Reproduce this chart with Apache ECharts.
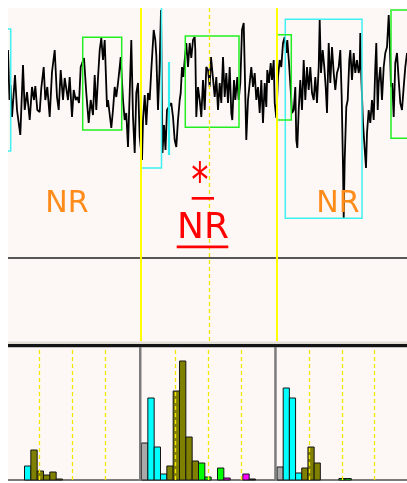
<!DOCTYPE html>
<html><head><meta charset="utf-8">
<script src="https://cdn.jsdelivr.net/npm/echarts@6/dist/echarts.min.js"></script>
<style>html,body{margin:0;padding:0;background:#fff}#c{width:407px;height:483px}</style>
</head><body><div id="c"></div><script>
// ---- EEG trace: [sample, amplitude µV] ----
const eegTrace = [
[0,40],[1.5,-10],[2.5,5],[4,-27],[7,15],[9,-20],[12.3,-45],[15,25],[16.7,-20],[19,-2],[21.7,-30],[24,3],[26,-10],[27.3,4],[29.3,-20],[31.7,-22],[33.3,2],[35.7,23],[37.3,-10],[39.3,3],[41.7,-27],[44,18],[46.7,40],[49,-7],[50.7,-20],[52.7,20],[55,-10],[56.7,12],[60,-10],[61.7,13],[64,-27],[65.7,0],[67.7,-10],[69.3,-7],[71,-13],[72.7,23],[76,32],[78.3,-3],[80.7,-33],[82.7,-10],[85,-25],[86.7,15],[88.3,-20],[90,12],[91.7,40],[93.3,52],[95,30],[96.7,50],[99,-17],
[100,-10],[103.3,-38],[105,-20],[106.7,3],[108.3,-7],[110,7],[111.7,23],[112.7,33],[115,-10],[116.7,-30],[118.3,-23],[120,-57],[121.7,-3],[123.3,50],[125,-27],[126.7,-63],[128.3,-3],[130,7],[131.7,-47],[134,-70],[135,-30],[136.7,-5],[138.3,-35],[140,-3],[141.7,-10],[143.3,20],[145.7,60],[147.3,50],[148.3,35],[150,-20],[151.5,20],[153,80],[154.5,-63],[156,-35],[157.5,-60],[159,-20],[163.3,-13],[165,-27],[166.7,-50],[168.3,-57],[170,-30],[171.7,-10],[172.7,-3],[174,23],[175.3,13],[176.7,30],[178.3,47],[180,23],[181.7,47],[183.3,32],[185,50],[186.7,53],[187.3,40],[188.3,-27],[190,3],[191.7,-10],[193.3,-27],[195,10],[196.7,-20],[198.3,23],
[200,20],[201.7,3],[203,33],[206.7,-7],[208.3,13],[210,-20],[211.7,7],[213.3,-13],[215,33],[216.7,-7],[218.3,17],[220,-13],[221.7,23],[223.3,-23],[224.3,-30],[226,10],[227.3,-10],[229.3,13],[230.7,-10],[232.3,7],[234,60],[235.7,67],[236.7,23],[238.3,-50],[240,-10],[241.7,7],[243.3,23],[245,3],[246.7,17],[248.3,-10],[250,3],[251.7,-23],[253.3,10],[255,-33],[256.7,7],[258.3,-17],[259.3,20],[261,7],[262.7,27],[264,10],[265.7,30],[266.7,-13],[268.3,-28],[270,13],[271.7,30],[273.3,23],[275,47],[276.7,53],[278.3,37],[279.3,50],[281,27],[282.7,0],[284,-23],[285.7,-20],[287.3,3],[288.3,-50],[289.3,-58],[290.7,-20],[292.3,10],[294,-20],[295.7,30],[297.3,-10],
[299,23],[300.7,0],[302.3,23],[304,-3],[305.7,-10],[307.3,13],[309,-13],[310.7,23],[311.7,70],[313,17],[314.7,40],[316.3,23],[317.7,3],[319,-23],[320.7,47],[322.3,7],[324,43],[325.7,17],[327.3,0],[329,17],[330.7,23],[332.3,40],[333.7,-7],[335,-77],[335.7,-128],[336.7,-70],[338.3,-17],[339.7,-10],[341.3,30],[342.3,40],[344,10],[345.7,37],[347.3,17],[349,30],[350.7,17],[351.7,23],[352.3,57],[353.3,13],[355,-33],[356.3,-53],[358,-78],[359,-43],[360.7,-20],[362.3,-33],[364,-10],[365.7,-30],[367.3,23],[368.3,47],[369.7,-20],[370.7,7],[372.3,23],[374,-10],[375.7,23],[377.3,37],[379,43],[380.7,75],[381.7,50],[383,3],[384.3,7],[385.7,-27],[387.3,27],[389,37],[390.7,10],[392.3,-13],[394,-20],[395.7,3],[397.3,23],[399,37]
];
// ---- second (flat) channel ----
const emgTrace = [
[0,-168],[20,-168],[21,-168.8],[22,-168],[60,-168],[61,-168.8],[62,-168],[130,-168],[131,-168.8],[132,-168],[175,-168],[176,-169],[177,-168],[240,-168],[241,-168.8],[242,-168],[300,-168],[301,-168.8],[302,-168],[340,-168],[341,-169],[342,-168],[399,-168]
];
const artifactMark = [[161,28],[161,-65]];
// annotation boxes: [t0, t1, aTop, aBottom]
const cyanBoxes = [[-18,2.7,61,-61],[133,153.5,100,-78],[277.3,354,70.7,-128.3]];
const greenBoxes = [[74.7,113.7,52.7,-40],[177.3,231,54,-37.3],[269,283.3,55.3,-30],[383,420,80,-48.3]];
const epochBounds = [133, 269];
const midMark = [201];
const stageLeft = 'NR', stageMid = 'NR', stageRight = 'NR';
// spectra histograms (21 bins each)
const hist1 = [0,0,0,14,30,9,5,8,1,0,0,0,0,0,0,0,0,0,0,0,0];
const hist2 = [37,82,33,6,14,89,119,43,19,17,3,0,12,2,0,0,6,1,0,0,0];
const hist3 = [13,92,82,7,12,33,17,0,0,0,1.5,1.5,0,0,0,0,0,0,0,0,0];
const bandLines = [1,2,3];

function binColor(i){
  if(i===0) return '#a9a9a9';
  if(i<=3) return '#00ffff';
  if(i<=8) return '#808000';
  if(i<=12) return '#00ff00';
  if(i<=16) return '#ff00ff';
  return '#202020';
}
const PINK = '#fdf8f6';
const chart = echarts.init(document.getElementById('c'));
const hists = [hist1, hist2, hist3];
const panelLefts = [5.5, 141.5, 277];
const grids = [{left:8, top:8, width:399, height:333}];
panelLefts.forEach(l => grids.push({left:l, top:347, width:133, height:133}));
const xAxes = [{type:'value', gridIndex:0, min:0, max:399, show:false}];
const yAxes = [{type:'value', gridIndex:0, min:-251, max:82, show:false}];
const cats = hist1.map((_, i) => String(i));
for (let p=0;p<3;p++){
  xAxes.push({type:'category', gridIndex:p+1, data:cats, boundaryGap:true,
    axisLine:{show:true, lineStyle:{color:'#505050', width:1.5}}, axisTick:{show:false}, axisLabel:{show:false}, splitLine:{show:false}});
  yAxes.push({type:'value', gridIndex:p+1, min:0, max:133, show:false});
}
for (let p=0;p<3;p++) xAxes.push({type:'value', gridIndex:p+1, min:0, max:4, show:false});

function boxSeries(data, color){
  return {type:'custom', xAxisIndex:0, yAxisIndex:0, clip:true, silent:true, z:4,
    data:data, encode:{x:[0,1], y:[2,3]},
    renderItem:(params, api)=>{
      const p0 = api.coord([api.value(0), api.value(2)]);
      const p1 = api.coord([api.value(1), api.value(3)]);
      return {type:'rect', shape:{x:p0[0], y:p0[1], width:p1[0]-p0[0], height:p1[1]-p0[1]},
        style:{fill:'none', stroke:color, lineWidth:1.5}};
    }};
}
const series = [
  {type:'line', xAxisIndex:0, yAxisIndex:0, data:eegTrace, symbol:'none', z:3,
    lineStyle:{color:'#000', width:1.8}, animation:false,
    markLine:{silent:true, symbol:'none', label:{show:false}, animation:false,
      data:[...epochBounds.map(v=>({xAxis:v, lineStyle:{color:'#ffff00', width:2, type:'solid'}})),
            ...midMark.map(v=>({xAxis:v, lineStyle:{color:'#f5e600', width:1.3, type:[4,3]}}))]}},
  {type:'line', xAxisIndex:0, yAxisIndex:0, data:emgTrace, symbol:'none', lineStyle:{color:'#222', width:1.4}, animation:false},
  {type:'line', xAxisIndex:0, yAxisIndex:0, data:artifactMark, symbol:'none', lineStyle:{color:'#33eeee', width:2.2}, animation:false, z:4},
  boxSeries(cyanBoxes, '#3ff0f0'),
  boxSeries(greenBoxes, '#22ee22')
];
for (let p=0;p<3;p++){
  series.push({type:'custom', xAxisIndex:p+1, yAxisIndex:p+1, animation:false, silent:true, z:3,
    data: hists[p].map((v,i)=>[i, v]),
    encode:{x:0, y:1},
    renderItem:(params, api)=>{
      const i = api.value(0), v = api.value(1);
      if (!(v > 0)) return null;
      const top = api.coord([i, v]);
      const base = api.coord([i, 0]);
      const w = api.size([1, 0])[0];
      return {type:'rect', shape:{x:top[0]-w/2, y:top[1], width:w, height:base[1]-top[1]},
        style:{fill:binColor(i), stroke:'#151515', lineWidth:1}};
    }});
  series.push({type:'line', xAxisIndex:4+p, yAxisIndex:p+1, data:[[0,0]], symbol:'none', lineStyle:{opacity:0}, animation:false,
    markLine:{silent:true, symbol:'none', label:{show:false}, animation:false,
      lineStyle:{color:'#f5e600', width:1.3, type:[4,3]},
      data: bandLines.map(v=>({xAxis:v}))}});
}
const FONT = 'DejaVu Sans';
const graphic = [
  {type:'rect', z:-5, shape:{x:8, y:8, width:399, height:473}, style:{fill:PINK}},
  {type:'rect', z:50, shape:{x:0, y:0, width:8, height:483}, style:{fill:'#fff'}},
  {type:'rect', z:50, shape:{x:0, y:481.5, width:407, height:2}, style:{fill:'#fff'}},
  {type:'rect', z:40, shape:{x:8, y:341.5, width:399, height:2.5}, style:{fill:'#e2ddd5'}},
  {type:'rect', z:40, shape:{x:8, y:344, width:399, height:3.3}, style:{fill:'#141414'}},
  {type:'rect', z:40, shape:{x:139, y:347, width:2.5, height:134}, style:{fill:'#7c7c7c'}},
  {type:'rect', z:40, shape:{x:274.2, y:347, width:2.5, height:134}, style:{fill:'#7c7c7c'}},
  {type:'text', z:30, x:67, y:204, style:{text:stageLeft, fill:'#ff8c1a', font:'30px "'+FONT+'"', textAlign:'center', textVerticalAlign:'middle'}},
  {type:'text', z:30, x:338, y:204, style:{text:stageRight, fill:'#ff8c1a', font:'30px "'+FONT+'"', textAlign:'center', textVerticalAlign:'middle'}},
  {type:'text', z:30, x:200, y:185, scaleX:0.72, style:{text:'*', fill:'#ff0000', font:'48px "'+FONT+'"', textAlign:'center', textVerticalAlign:'middle'}},
  {type:'rect', z:30, shape:{x:191.7, y:197, width:22.3, height:2.7}, style:{fill:'#ff0000'}},
  {type:'text', z:30, x:203, y:229, style:{text:stageMid, fill:'#ff0000', font:'36px "'+FONT+'"', textAlign:'center', textVerticalAlign:'middle'}},
  {type:'rect', z:30, shape:{x:176.7, y:245.5, width:51.6, height:2.7}, style:{fill:'#ff0000'}}
];
chart.setOption({animation:false, backgroundColor:'#ffffff', grid:grids, xAxis:xAxes, yAxis:yAxes, series:series, graphic:graphic});
</script></body></html>
